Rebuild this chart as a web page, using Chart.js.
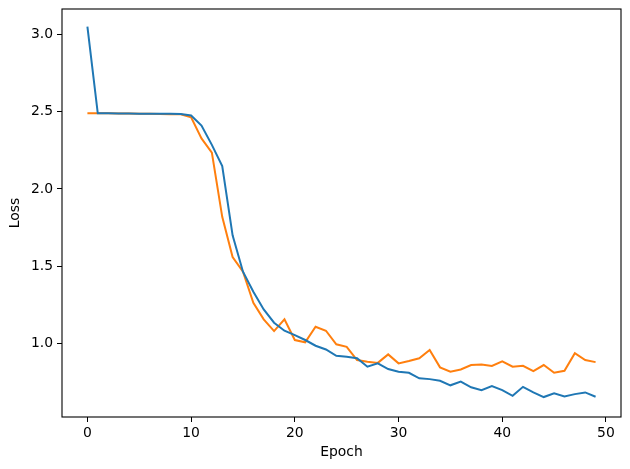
<!DOCTYPE html>
<html>
<head>
    <meta charset="utf-8" />
    <title>loss chart</title>
    <script src="https://cdn.jsdelivr.net/npm/chart.js"></script>
    <style>
        html, body { margin: 0; padding: 0; background: #fff; }
        #box { width: 630px; height: 469px; }
    </style>
</head>
<body>
    <div id="box"><canvas id="lossChart"></canvas></div>
<script>
    // epochs 0..49
    const epochs = [0,1,2,3,4,5,6,7,8,9,10,11,12,13,14,15,16,17,18,19,20,21,22,23,24,25,26,27,28,29,30,31,32,33,34,35,36,37,38,39,40,41,42,43,44,45,46,47,48,49]
    const trainLoss = [3.05,2.489,2.489,2.488,2.488,2.487,2.487,2.486,2.486,2.485,2.475,2.41,2.285,2.148,1.70,1.465,1.335,1.221,1.135,1.083,1.055,1.023,0.986,0.962,0.921,0.915,0.905,0.85,0.872,0.835,0.818,0.811,0.775,0.77,0.759,0.73,0.754,0.717,0.699,0.725,0.699,0.662,0.72,0.684,0.654,0.678,0.658,0.673,0.684,0.656]
    const valLoss = [2.489,2.489,2.489,2.488,2.488,2.487,2.486,2.485,2.484,2.483,2.463,2.327,2.235,1.82,1.56,1.465,1.264,1.157,1.081,1.157,1.023,1.008,1.109,1.083,0.995,0.979,0.893,0.882,0.875,0.93,0.872,0.887,0.905,0.958,0.846,0.818,0.832,0.861,0.865,0.855,0.885,0.85,0.856,0.822,0.861,0.811,0.824,0.938,0.893,0.88]
    const xTicks = [0,10,20,30,40,50]
    const yTicks = [1.0,1.5,2.0,2.5,3.0]

    const font = { family: 'DejaVu Sans', size: 13.9 }

    // box around the plot, like matplotlib spines
    const frame = {
        id: 'frame',
        afterDraw(chart) {
            const a = chart.chartArea
            const ctx = chart.ctx
            ctx.save()
            ctx.strokeStyle = '#000'
            ctx.lineWidth = 1.1
            ctx.strokeRect(a.left, a.top, a.right - a.left, a.bottom - a.top)
            ctx.restore()
        }
    }

    new Chart(document.getElementById('lossChart'), {
        type: 'line',
        data: {
            datasets: [{
                data: epochs.map((e, i) => ({ x: e, y: trainLoss[i] })),
                borderColor: '#1f77b4',
                borderWidth: 2,
                pointRadius: 0,
                tension: 0
            }, {
                data: epochs.map((e, i) => ({ x: e, y: valLoss[i] })),
                borderColor: '#ff7f0e',
                borderWidth: 2,
                pointRadius: 0,
                tension: 0
            }]
        },
        options: {
            responsive: true,
            maintainAspectRatio: false,
            animation: false,
            layout: { padding: { top: 9, right: 9, left: 0, bottom: 0 } },
            plugins: { legend: { display: false }, tooltip: { enabled: false } },
            scales: {
                x: {
                    type: 'linear',
                    min: -2.45,
                    max: 51.45,
                    afterBuildTicks: s => { s.ticks = xTicks.map(v => ({ value: v })) },
                    afterFit: s => { s.height = 52; s.paddingLeft = 0; s.paddingRight = 0 },
                    grid: { drawOnChartArea: false, drawTicks: true, tickLength: 5, color: '#000' },
                    border: { display: false },
                    ticks: { color: '#000', font: font, padding: 3, maxRotation: 0 },
                    title: { display: true, text: 'Epoch', color: '#000', font: font, padding: { top: 2, bottom: 8 } }
                },
                y: {
                    type: 'linear',
                    min: 0.525,
                    max: 3.164,
                    afterBuildTicks: s => { s.ticks = yTicks.map(v => ({ value: v })) },
                    afterFit: s => { s.width = 62; s.paddingTop = 0; s.paddingBottom = 0 },
                    grid: { drawOnChartArea: false, drawTicks: true, tickLength: 5, color: '#000' },
                    border: { display: false },
                    ticks: { color: '#000', font: font, padding: 4, callback: v => v.toFixed(1) },
                    title: { display: true, text: 'Loss', color: '#000', font: font, padding: { top: 7, bottom: 4 } }
                }
            }
        },
        plugins: [frame]
    })
</script>
</body>
</html>
